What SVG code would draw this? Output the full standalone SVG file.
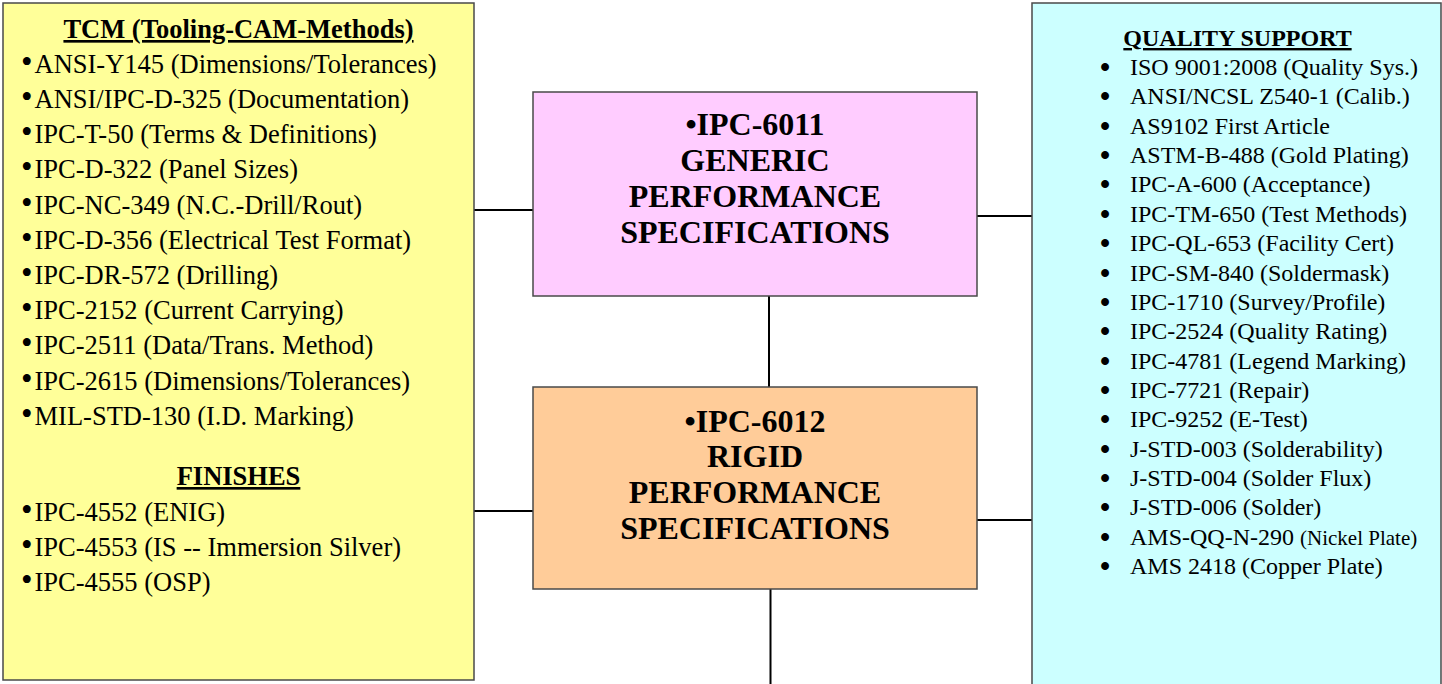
<svg xmlns="http://www.w3.org/2000/svg" width="1442" height="684" viewBox="0 0 1442 684">
<style>
.box{stroke:#4a4a4a;stroke-width:1.5}
.conn{stroke:#000;stroke-width:2;fill:none}
.t{font-family:"Liberation Serif","Times New Roman",serif;fill:#000}
.l{font-size:26.5px}
.r{font-size:24px}
.h{font-weight:bold;text-decoration:underline}
.c{font-size:32px;font-weight:bold;text-anchor:middle}
.lb{font-family:"Liberation Serif","Times New Roman",serif;font-size:33px;fill:#000}
.rb{font-family:"Liberation Serif","Times New Roman",serif;font-size:29px;font-weight:bold;fill:#000}
</style>
<rect width="1442" height="684" fill="#fff"/>
<g id="connectors">
<line class="conn" x1="474" y1="210" x2="533" y2="210"/>
<line class="conn" x1="977" y1="216" x2="1032" y2="216"/>
<line class="conn" x1="769" y1="296" x2="769" y2="387"/>
<line class="conn" x1="474" y1="511" x2="533" y2="511"/>
<line class="conn" x1="977" y1="520" x2="1032" y2="520"/>
<line class="conn" x1="770.5" y1="589" x2="770.5" y2="684"/>
</g>
<g id="tcm">
<rect class="box" x="3" y="3" width="471" height="677" fill="#FFFF99"/>
<text class="t l h" x="238.5" y="38" text-anchor="middle">TCM (Tooling-CAM-Methods)</text>
<g class="lb">
<text x="21" y="72.7">•</text>
<text x="21" y="107.9">•</text>
<text x="21" y="143.1">•</text>
<text x="21" y="178.3">•</text>
<text x="21" y="213.5">•</text>
<text x="21" y="248.7">•</text>
<text x="21" y="283.9">•</text>
<text x="21" y="319.1">•</text>
<text x="21" y="354.3">•</text>
<text x="21" y="389.5">•</text>
<text x="21" y="424.7">•</text>
<text x="21" y="520.7">•</text>
<text x="21" y="555.9">•</text>
<text x="21" y="591">•</text>
</g>
<g class="t l">
<text x="34.5" y="72.7">ANSI-Y145 (Dimensions/Tolerances)</text>
<text x="34.5" y="107.9">ANSI/IPC-D-325 (Documentation)</text>
<text x="34.5" y="143.1">IPC-T-50 (Terms &amp; Definitions)</text>
<text x="34.5" y="178.3">IPC-D-322 (Panel Sizes)</text>
<text x="34.5" y="213.5">IPC-NC-349 (N.C.-Drill/Rout)</text>
<text x="34.5" y="248.7">IPC-D-356 (Electrical Test Format)</text>
<text x="34.5" y="283.9">IPC-DR-572 (Drilling)</text>
<text x="34.5" y="319.1">IPC-2152 (Current Carrying)</text>
<text x="34.5" y="354.3">IPC-2511 (Data/Trans. Method)</text>
<text x="34.5" y="389.5">IPC-2615 (Dimensions/Tolerances)</text>
<text x="34.5" y="424.7">MIL-STD-130 (I.D. Marking)</text>
<text x="34.5" y="520.7">IPC-4552 (ENIG)</text>
<text x="34.5" y="555.9">IPC-4553 (IS -- Immersion Silver)</text>
<text x="34.5" y="591">IPC-4555 (OSP)</text>
</g>
<text class="t l h" x="238.5" y="485" text-anchor="middle">FINISHES</text>
</g>
<g id="ipc6011">
<rect class="box" x="533" y="92" width="444" height="204" fill="#FFCCFF"/>
<text class="t c" x="755" y="135">•IPC-6011</text>
<text class="t c" x="755" y="171">GENERIC</text>
<text class="t c" x="755" y="207">PERFORMANCE</text>
<text class="t c" x="755" y="243">SPECIFICATIONS</text>
</g>
<g id="ipc6012">
<rect class="box" x="533" y="387" width="444" height="202" fill="#FFCC99"/>
<text class="t c" x="755" y="432">•IPC-6012</text>
<text class="t c" x="755" y="467">RIGID</text>
<text class="t c" x="755" y="503">PERFORMANCE</text>
<text class="t c" x="755" y="538.5">SPECIFICATIONS</text>
</g>
<g id="quality">
<rect class="box" x="1032" y="3" width="409" height="700" fill="#CCFFFF"/>
<text class="t r h" x="1237.5" y="46" text-anchor="middle">QUALITY SUPPORT</text>
<g class="rb">
<text x="1100" y="77">•</text>
<text x="1100" y="106.4">•</text>
<text x="1100" y="135.7">•</text>
<text x="1100" y="165.1">•</text>
<text x="1100" y="194.4">•</text>
<text x="1100" y="223.8">•</text>
<text x="1100" y="253.1">•</text>
<text x="1100" y="282.5">•</text>
<text x="1100" y="311.8">•</text>
<text x="1100" y="341.2">•</text>
<text x="1100" y="370.5">•</text>
<text x="1100" y="399.9">•</text>
<text x="1100" y="429.2">•</text>
<text x="1100" y="458.6">•</text>
<text x="1100" y="487.9">•</text>
<text x="1100" y="517.3">•</text>
<text x="1100" y="546.6">•</text>
<text x="1100" y="576">•</text>
</g>
<g class="t r">
<text x="1130" y="75">ISO 9001:2008 (Quality Sys.)</text>
<text x="1130" y="104.4">ANSI/NCSL Z540-1 (Calib.)</text>
<text x="1130" y="133.7">AS9102 First Article</text>
<text x="1130" y="163.1">ASTM-B-488 (Gold Plating)</text>
<text x="1130" y="192.4">IPC-A-600 (Acceptance)</text>
<text x="1130" y="221.8">IPC-TM-650 (Test Methods)</text>
<text x="1130" y="251.1">IPC-QL-653 (Facility Cert)</text>
<text x="1130" y="280.5">IPC-SM-840 (Soldermask)</text>
<text x="1130" y="309.8">IPC-1710 (Survey/Profile)</text>
<text x="1130" y="339.2">IPC-2524 (Quality Rating)</text>
<text x="1130" y="368.5">IPC-4781 (Legend Marking)</text>
<text x="1130" y="397.9">IPC-7721 (Repair)</text>
<text x="1130" y="427.2">IPC-9252 (E-Test)</text>
<text x="1130" y="456.6">J-STD-003 (Solderability)</text>
<text x="1130" y="485.9">J-STD-004 (Solder Flux)</text>
<text x="1130" y="515.3">J-STD-006 (Solder)</text>
<text x="1130" y="544.6">AMS-QQ-N-290 <tspan font-size="21px">(Nickel Plate)</tspan></text>
<text x="1130" y="574">AMS 2418 (Copper Plate)</text>
</g>
</g>
</svg>
